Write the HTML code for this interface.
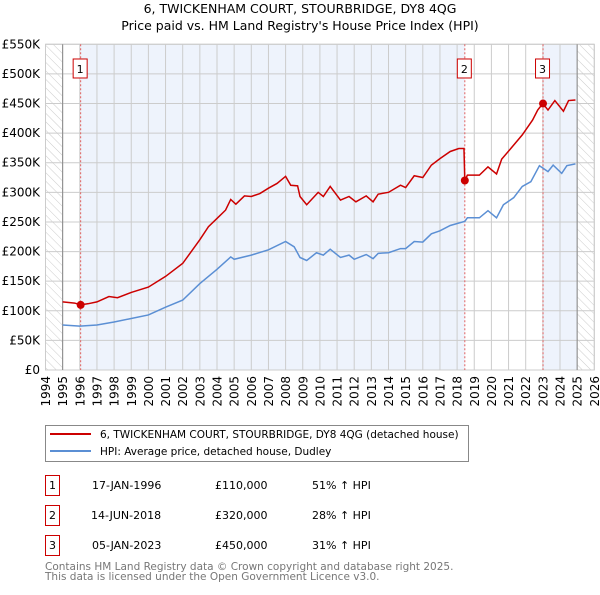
<!DOCTYPE html>
<html><head><meta charset="utf-8"><style>
body{margin:0;background:#fff;font-family:"Liberation Sans","DejaVu Sans",sans-serif;}
svg text{font-family:"DejaVu Sans","Liberation Sans",sans-serif;}
</style></head><body>
<svg id="c" width="600" height="590" xmlns="http://www.w3.org/2000/svg">
<defs><pattern id="hatch" width="6" height="6" patternUnits="userSpaceOnUse" patternTransform="rotate(-45)"><line x1="0" y1="0" x2="0" y2="6" stroke="#ccc" stroke-width="1"/></pattern></defs>
<text x="300" y="13" text-anchor="middle" font-size="12.5">6, TWICKENHAM COURT, STOURBRIDGE, DY8 4QG</text>
<text x="300" y="30" text-anchor="middle" font-size="12.5">Price paid vs. HM Land Registry's House Price Index (HPI)</text>
<g id="plot"></g>
<g>
<rect x="45.5" y="425.5" width="423" height="36" fill="#fff" stroke="#888"/>
<line x1="50" y1="434" x2="91" y2="434" stroke="#cc0000" stroke-width="2"/>
<text x="100" y="438" font-size="10.5">6, TWICKENHAM COURT, STOURBRIDGE, DY8 4QG (detached house)</text>
<line x1="50" y1="451" x2="91" y2="451" stroke="#5b8fd4" stroke-width="2"/>
<text x="100" y="455" font-size="10.5">HPI: Average price, detached house, Dudley</text>
</g>
<g font-size="11">
<rect x="45.5" y="475.5" width="14" height="20" fill="#fff" stroke="#cc0000"/><text x="52.5" y="489" text-anchor="middle">1</text>
<text x="92" y="489">17-JAN-1996</text><text x="215" y="489">£110,000</text><text x="312" y="489">51% ↑ HPI</text>
<rect x="45.5" y="505.5" width="14" height="20" fill="#fff" stroke="#cc0000"/><text x="52.5" y="519" text-anchor="middle">2</text>
<text x="91" y="519">14-JUN-2018</text><text x="215" y="519">£320,000</text><text x="312" y="519">28% ↑ HPI</text>
<rect x="45.5" y="535.5" width="14" height="20" fill="#fff" stroke="#cc0000"/><text x="52.5" y="549" text-anchor="middle">3</text>
<text x="92" y="549">05-JAN-2023</text><text x="215" y="549">£450,000</text><text x="312" y="549">31% ↑ HPI</text>
</g>
<g font-size="10.5" fill="#777">
<text x="45" y="570">Contains HM Land Registry data © Crown copyright and database right 2025.</text>
<text x="45" y="580">This data is licensed under the Open Government Licence v3.0.</text>
</g>
</svg>
<script>
const yTicks=[0,50,100,150,200,250,300,350,400,450,500,550];
const yTickLabels=["£0","£50K","£100K","£150K","£200K","£250K","£300K","£350K","£400K","£450K","£500K","£550K"];
const years=[1994,1995,1996,1997,1998,1999,2000,2001,2002,2003,2004,2005,2006,2007,2008,2009,2010,2011,2012,2013,2014,2015,2016,2017,2018,2019,2020,2021,2022,2023,2024,2025,2026];
const priceDates=[1995.0,1995.7,1996.05,1996.5,1997.0,1997.7,1998.2,1999.0,2000.0,2001.0,2002.0,2003.0,2003.5,2004.0,2004.5,2004.8,2005.1,2005.6,2006.0,2006.5,2007.0,2007.5,2008.0,2008.3,2008.7,2008.84,2009.23,2009.9,2010.2,2010.6,2011.2,2011.7,2012.1,2012.7,2013.1,2013.4,2014.0,2014.7,2015.0,2015.5,2016.0,2016.5,2017.0,2017.6,2018.1,2018.4,2018.45,2018.6,2019.3,2019.8,2020.3,2020.6,2021.1,2021.8,2022.4,2022.7,2023.0,2023.3,2023.7,2024.2,2024.5,2024.9];
const priceValues=[115,113,110,112,115,124,122,131,140,158,180,220,242,256,270,288,280,294,293,298,307,315,327,312,311,293,279,300,293,310,287,293,284,294,284,297,300,312,308,328,325,346,357,369,374,374,320,329,329,343,331,356,373,397,422,439,450,439,455,437,455,456];
const hpiDates=[1995.0,1996.0,1997.0,1998.0,1999.0,2000.0,2001.0,2002.0,2003.0,2004.0,2004.8,2005.0,2006.0,2007.0,2008.0,2008.5,2008.84,2009.23,2009.8,2010.2,2010.6,2011.2,2011.7,2012.0,2012.7,2013.1,2013.4,2014.0,2014.7,2015.0,2015.5,2016.0,2016.5,2017.0,2017.6,2018.45,2018.6,2019.3,2019.8,2020.3,2020.7,2021.3,2021.8,2022.3,2022.8,2023.3,2023.6,2024.1,2024.4,2024.9];
const hpiValues=[76,74,76,81,87,93,106,118,146,170,191,187,194,203,217,208,190,185,198,194,204,190,194,187,195,188,197,198,205,205,217,216,230,235,244,251,257,257,269,257,279,291,310,318,345,335,346,332,345,348];
const saleDates=[1996.05,2018.45,2023.01];
const saleValues=[110,320,450];
const saleLabels=["1","2","3"];
const X0=45.5,YW=17.15,Y0=370,YK=(370-44.3)/550;
const xs=y=>X0+(y-1994)*YW, ys=v=>Y0-v*YK;
const NS="http://www.w3.org/2000/svg";
const g=document.getElementById('plot');
function el(t,a,p){const e=document.createElementNS(NS,t);for(const k in a)e.setAttribute(k,a[k]);(p||g).appendChild(e);return e;}
const pTop=ys(550),pBot=ys(0),pL=xs(1994),pR=xs(2026);
let s1=el('rect',{x:xs(saleDates[0]),y:pTop,width:xs(saleDates[1])-xs(saleDates[0]),height:pBot-pTop,fill:'#eef3fc'});


let s2=el('rect',{x:xs(saleDates[2]),y:pTop,width:xs(2025.0)-xs(saleDates[2]),height:pBot-pTop,fill:'#eef3fc'});


let h1=el('rect',{x:pL,y:pTop,width:xs(1995)-pL,height:pBot-pTop,fill:'url(#hatch)'});


let h2=el('rect',{x:xs(2025.0),y:pTop,width:pR-xs(2025.0),height:pBot-pTop,fill:'url(#hatch)'});


yTicks.forEach((v,i)=>{
 el('line',{x1:pL,x2:pR,y1:ys(v),y2:ys(v),stroke:'#ccc','stroke-width':1});
 const t=el('text',{x:40,y:ys(v)+4,'text-anchor':'end','font-size':12});
 t.textContent=yTickLabels[i];
 
 
});
years.forEach(y=>{
 el('line',{x1:xs(y),x2:xs(y),y1:pTop,y2:pBot,stroke:'#ccc','stroke-width':1});
 const t=el('text',{x:0,y:0,'text-anchor':'end','font-size':12,transform:`translate(${xs(y)+4.5},${pBot+6}) rotate(-90)`});
 t.textContent=y;
 
 
});
el('rect',{x:pL,y:pTop,width:pR-pL,height:pBot-pTop,fill:'none',stroke:'#ccc'});
el('line',{x1:xs(1995),x2:xs(1995),y1:pTop,y2:pBot,stroke:'#888'});
el('line',{x1:xs(2025),x2:xs(2025),y1:pTop,y2:pBot,stroke:'#888'});
saleDates.forEach((d,i)=>{
 el('line',{x1:xs(d),x2:xs(d),y1:pTop,y2:pBot,stroke:'#e06060','stroke-dasharray':'2,2','stroke-width':1});
});
const hp=el('polyline',{points:hpiDates.map((d,i)=>xs(d)+','+ys(hpiValues[i])).join(' '),fill:'none',stroke:'#5b8fd4','stroke-width':1.5});


const pp=el('polyline',{points:priceDates.map((d,i)=>xs(d)+','+ys(priceValues[i])).join(' '),fill:'none',stroke:'#cc0000','stroke-width':1.5});


saleDates.forEach((d,i)=>{
 const c=el('circle',{cx:xs(d),cy:ys(saleValues[i]),r:4,fill:'#cc0000'});
 
 
 const bx=xs(d)-8,by=ys(510)-9;
 const r=el('rect',{x:bx+0.5,y:by,width:14,height:19,fill:'#fff',stroke:'#cc0000'});
 
 
 const t=el('text',{x:bx+7.5,y:by+14,'text-anchor':'middle','font-size':11});
 t.textContent=saleLabels[i];
});
</script>
</body></html>
